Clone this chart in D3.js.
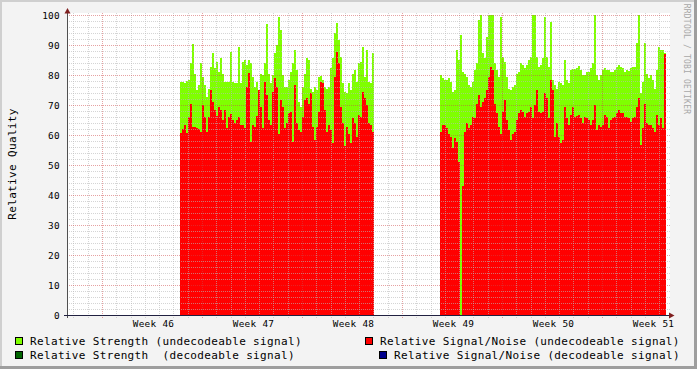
<!DOCTYPE html>
<html><head><meta charset="utf-8">
<script src="https://cdn.jsdelivr.net/npm/d3@7"></script>
<style>
html,body{margin:0;padding:0;background:#f3f3f3;}
svg{display:block;}
text{font-family:"DejaVu Sans Mono",monospace;white-space:pre;}
</style></head>
<body>
<script>
// ---- data (time in days since left edge of graph) ----
const sampleStep = 0.14;
const blockAStart = 7.91;
const blockBStart = 26.11;
const strengthA = [77.8,77.8,77.5,78,78.3,84,90.5,80.5,75,76.7,84,79.4,76.7,72.8,75.5,82.8,87.2,82.2,84.4,81,85.6,80.5,77.8,77.8,77.8,87.8,77.8,77.5,77.2,89.4,77.2,84.4,85,83.3,85,84,79.4,76,77.8,75,80.5,80,
 84,97,80.5,77.2,80,87.2,90,99.4,95,80,76,76,78.3,81,84,88.3,81.7,71,69.4,76,80.5,85.6,85,75.5,74.4,76,75,79.4,79.7,78.3,76,75.5,76,82.2,85.6,93.9,97.2,91.7,86,77.2,74.4,73.9,77.2,75,80.5,81.7,77.8,84,84.4,89.4,79.4,88.3,77.8,77.2,87.2];
const snrA = [60.6,62,63.3,60.8,66,70.5,62.8,62.8,62.2,62,61.1,70,65.9,61,66,75,71,68.3,66.3,69.4,68.3,65,68.3,62.5,66,67,65,63.9,65,66,63.3,63.3,62.5,76,80.8,57.8,63.3,62.8,66.3,75,69.4,62.2,
 77.8,73.3,65,63.3,74.4,79,76,60.5,71.7,69.4,62.2,63.9,67.2,67.8,57.8,76.7,63.9,61.7,61.1,66,71.7,72.2,70.5,73.9,62.8,58.3,62.8,67.8,77.8,77.2,68.3,61.1,63.3,61.7,57.2,79.4,87.8,83.9,69.4,63.9,56.3,62.8,60.5,57.2,65.6,63.9,59.4,66.7,66,74.4,72.2,70,63.9,63.3,61.1];
const strengthB = [80,78.9,78.3,78.3,78.9,77.8,74.4,75,88.3,85,93.3,81,80.5,79.4,76.7,76,77.8,81.7,84,98.3,100,87.2,85.6,92.8,100,100,100,84,81.7,79.4,99.4,86,84.4,79.4,75.5,75,75.9,76.7,80.5,81,84,83.3,
 82.2,83.3,85,86,100,100,86,82.8,83.3,85.6,99.4,86,82.8,97.8,78.3,76.7,75.5,77.8,77.2,76.7,85,78.3,77.2,81.7,81.9,81.9,82.2,83,81.7,80,80,81,81,82.2,84,100,80,78.3,80,81.7,82.2,81.7,
 81.7,81,81,81.7,82.8,83.3,82.8,82.2,81,81.7,81.4,82.2,82.8,82.8,90.6,100,73.9,77.8,90.6,80.5,78.9,80,78.3,75.5,81.7,89.4,88.3,88.3,87.5];
const snrB = [61.1,63.3,63.3,62.2,60.5,59.4,55.6,58.9,57.8,51.1,0,43,61.1,63.9,62.2,63.3,66,65.6,70.5,73.3,69.4,71,72.2,75,79.4,82.8,81.7,70.5,67.2,62.8,60.5,67.8,71.7,65,61.7,58.3,60.5,61.1,65,67.2,68.3,67.8,
 66,67.2,67.8,69.4,65.6,70,75,67.8,67.2,67.8,73.9,72.2,65.6,78.3,75,59.4,63.9,59.4,57.2,58.3,69.4,65.6,63.3,66.7,69.4,66,66.3,66.7,65.6,63.9,66,65.6,65,63.3,65,70,61.7,63.3,62.8,63.3,66.7,66,
 62.2,65,65.6,66,67.2,68.3,67.2,67.2,66,66,65.6,64.4,65.6,66,69.4,72.2,56.7,62.2,70.5,63.9,63.3,63.3,62.2,61.1,66.7,63.3,65.6,62.2,87];
const weekLabels = ["Week 46","Week 47","Week 48","Week 49","Week 50","Week 51"];
const firstWeekStart = 2.45;   // day offset of Monday, week 46
const totalDays = 42;
const yTicks = [0,10,20,30,40,50,60,70,80,90,100];
const legendItems = [
  {label:"Relative Strength (undecodeable signal)", color:"#7fff00"},
  {label:"Relative Signal/Noise (undecodeable signal)", color:"#ff0000"},
  {label:"Relative Strength  (decodeable signal)", color:"#006400"},
  {label:"Relative Signal/Noise (decodeable signal)", color:"#00008b"}
];

const W = 697, H = 369;
const svg = d3.select("body").append("svg").attr("width",W).attr("height",H);
svg.append("rect").attr("width",W).attr("height",H).attr("fill","#f3f3f3");

const x = d3.scaleLinear().domain([0,totalDays]).range([67,667]);
const y = d3.scaleLinear().domain([0,100]).range([315,15]);

// canvas
svg.append("rect").attr("x",67).attr("y",13).attr("width",603).attr("height",302).attr("fill","#fff");

function series(start, vals){
  const pts = vals.map((v,i)=>({t:start+i*sampleStep, v}));
  pts.push({t:start+vals.length*sampleStep, v:vals[vals.length-1]});
  return pts;
}
const area = d3.area().curve(d3.curveStepAfter)
  .x(d=>Math.round(x(d.t))).y0(y(0)).y1(d=>y(d.v));
const dataG = svg.append("g").attr("shape-rendering","crispEdges");
[[blockAStart,strengthA,snrA],[blockBStart,strengthB,snrB]].forEach(([s,g,r])=>{
  dataG.append("path").attr("d",area(series(s,g))).attr("fill","#7fff00");
  dataG.append("path").attr("d",area(series(s,r))).attr("fill","#ff0000");
});

// grid (drawn over data, like rrdtool)
const grid = svg.append("g").attr("shape-rendering","crispEdges");
const minorY = d3.range(0,101,2).filter(v=>v%10!==0);
const majorY = yTicks;
grid.selectAll(".hmin").data(minorY).join("line")
  .attr("x1",67).attr("x2",670).attr("y1",d=>Math.round(y(d))+0.5).attr("y2",d=>Math.round(y(d))+0.5)
  .attr("stroke","rgba(185,185,185,0.6)").attr("stroke-dasharray","1,1");
const dayTicks = d3.range(firstWeekStart-2, totalDays, 1).filter(d=>Math.abs(((d-firstWeekStart)%7+7)%7)>0.01 && Math.abs(((d-firstWeekStart)%7+7)%7-7)>0.01);
const weekTicks = d3.range(firstWeekStart, totalDays, 7);
grid.selectAll(".vmin").data(dayTicks).join("line")
  .attr("x1",d=>Math.round(x(d))+0.5).attr("x2",d=>Math.round(x(d))+0.5).attr("y1",13).attr("y2",318)
  .attr("stroke","rgba(185,185,185,0.6)").attr("stroke-dasharray","1,1");
grid.selectAll(".hmaj").data(majorY.filter(v=>v>0)).join("line")
  .attr("x1",67).attr("x2",670).attr("y1",d=>Math.round(y(d))+0.5).attr("y2",d=>Math.round(y(d))+0.5)
  .attr("stroke","rgba(205,70,70,0.5)").attr("stroke-dasharray","1,1");
grid.selectAll(".vmaj").data(weekTicks).join("line")
  .attr("x1",d=>Math.round(x(d))+0.5).attr("x2",d=>Math.round(x(d))+0.5).attr("y1",13).attr("y2",318)
  .attr("stroke","rgba(205,70,70,0.5)").attr("stroke-dasharray","1,1");

// axes lines
const ax = svg.append("g").attr("shape-rendering","crispEdges");
ax.append("line").attr("x1",67.5).attr("x2",67.5).attr("y1",318).attr("y2",11).attr("stroke","#505050");
ax.append("line").attr("x1",64).attr("x2",671).attr("y1",315.5).attr("y2",315.5).attr("stroke","#202040");
svg.append("path").attr("d","M64.5,13.5L70.5,13.5L67.5,8Z").attr("fill","#7f1f1f");
svg.append("path").attr("d","M669,312.5L669,318.5L674.5,315.5Z").attr("fill","#7f1f1f");

// y labels via d3 axis
const yAxis = d3.axisLeft(y).tickValues(yTicks).tickSize(0).tickPadding(0).tickFormat(d3.format("d"));
const yg = svg.append("g").attr("transform","translate(60,0)").call(yAxis);
yg.select(".domain").remove();
yg.selectAll("text").attr("font-family","DejaVu Sans Mono").attr("font-size","9.4px")
  .attr("letter-spacing","0.3px").attr("fill","#000").attr("dy","0.34em");

// x labels via d3 axis at week centres
const weekCenters = weekTicks.map(d=>d+3.5);
const xAxis = d3.axisBottom(x).tickValues(weekCenters).tickSize(0).tickPadding(0)
  .tickFormat((d,i)=>weekLabels[i]);
const xg = svg.append("g").attr("transform","translate(1,320)").call(xAxis);
xg.select(".domain").remove();
xg.selectAll("text").attr("font-family","DejaVu Sans Mono").attr("font-size","9.4px")
  .attr("letter-spacing","0.3px").attr("fill","#000").attr("dy","0.71em");

// y title
svg.append("text").attr("transform","translate(16,164) rotate(-90)").attr("text-anchor","middle")
  .attr("font-size","11px").attr("letter-spacing","0.35px").attr("fill","#000").text("Relative Quality");

// watermark
svg.append("text").attr("transform","translate(684,59) rotate(90)").attr("text-anchor","middle")
  .attr("font-size","8px").attr("letter-spacing","0.2px").attr("fill","#a8a8a8").text("RRDTOOL / TOBI OETIKER");

// legend
const legPos = [[15,30,345],[365,380,345],[15,30,359],[379,394,359]];
legendItems.forEach((it,i)=>{
  const [sx,tx,by] = legPos[i];
  svg.append("rect").attr("x",sx+0.5).attr("y",by-7.5).attr("width",7).attr("height",7)
    .attr("fill",it.color).attr("stroke","#000").attr("shape-rendering","crispEdges");
  svg.append("text").attr("x",tx).attr("y",by).attr("font-size","11px").attr("letter-spacing","0.35px")
    .attr("fill","#000").text(it.label);
});

// frame
svg.append("rect").attr("x",0).attr("y",0).attr("width",W).attr("height",2).attr("fill","#cfcfcf");
svg.append("rect").attr("x",0).attr("y",0).attr("width",2).attr("height",H).attr("fill","#cfcfcf");
svg.append("rect").attr("x",0).attr("y",H-3).attr("width",W).attr("height",3).attr("fill","#9e9e9e");
svg.append("rect").attr("x",W-3).attr("y",0).attr("width",3).attr("height",H).attr("fill","#9e9e9e");
</script>
</body></html>
